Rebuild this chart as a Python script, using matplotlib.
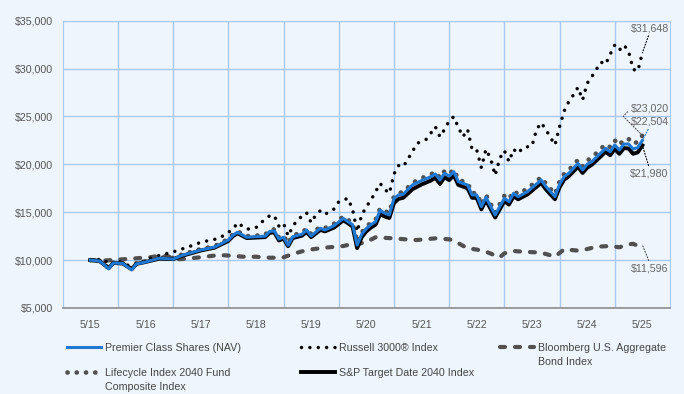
import matplotlib
matplotlib.use('Agg')
import matplotlib.pyplot as plt
from matplotlib.ticker import FuncFormatter

plt.rcParams['font.family'] = ['Liberation Sans', 'DejaVu Sans']

# months since 5/15 (0 = May 2015, 120 = May 2025)
fund_months = [0, 2, 4, 5, 7, 9, 10, 12, 15, 18,
               20, 24, 27, 30, 31, 32, 34, 36, 38, 39,
               40, 41, 42, 43, 44, 46, 47, 48, 50, 51,
               53, 55, 56, 57, 58, 59, 60, 61, 62, 63,
               64, 65, 66, 67, 68, 70, 72, 74, 75, 76,
               77, 78, 79, 80, 82, 83, 84, 85, 86, 88,
               90, 91, 92, 93, 95, 98, 99, 101, 102, 103,
               104, 106, 107, 108, 109, 112, 113, 114, 115, 116,
               117, 118, 119, 120]

premier_values = [10000, 9900, 9100, 9700, 9650, 8970, 9600, 9800, 10200, 10100,
                  10500, 11050, 11350, 12100, 12600, 12900, 12380, 12450, 12500, 13000,
                  13040, 12200, 12380, 11550, 12440, 12700, 13140, 12520, 13320, 13140,
                  13600, 14360, 14010, 13700, 11580, 12700, 13300, 13700, 14000, 15200,
                  14900, 14710, 16450, 16800, 16870, 17840, 18300, 18700, 18990, 18360,
                  19060, 18780, 19230, 18190, 17840, 16800, 16800, 15580, 16560, 14710,
                  16450, 16100, 16970, 16620, 17140, 18360, 17700, 16620, 17900, 18710,
                  19060, 20100, 19410, 20000, 20280, 21670, 21320, 22020, 21500, 22120,
                  22120, 21600, 21750, 22504]

sp_values = [10000, 9900, 9150, 9700, 9650, 9050, 9600, 9800, 10150, 10100,
             10450, 11000, 11300, 12000, 12500, 12800, 12300, 12350, 12400, 12850,
             12900, 12050, 12250, 11450, 12300, 12550, 12950, 12400, 13150, 13000,
             13400, 14150, 13850, 13500, 11250, 12400, 13000, 13400, 13700, 14800,
             14550, 14400, 15950, 16400, 16500, 17400, 17900, 18300, 18600, 17950,
             18650, 18350, 18850, 17850, 17500, 16500, 16500, 15300, 16250, 14450,
             16150, 15800, 16650, 16350, 16850, 18050, 17400, 16350, 17600, 18400,
             18750, 19750, 19100, 19650, 19950, 21300, 20950, 21600, 21100, 21700,
             21650, 21100, 21250, 21980]

lifecycle_values = [10000, 9920, 9180, 9760, 9700, 9060, 9680, 9880, 10280, 10220,
                    10600, 11150, 11450, 12200, 12700, 13000, 12500, 12550, 12650, 13150,
                    13200, 12350, 12550, 11750, 12600, 12850, 13300, 12700, 13500, 13350,
                    13800, 14550, 14200, 13900, 11850, 12900, 13500, 13900, 14200, 15400,
                    15100, 14950, 16650, 17000, 17100, 18050, 18550, 18950, 19200, 18600,
                    19300, 19000, 19450, 18400, 18050, 17000, 17000, 15800, 16800, 14950,
                    16700, 16350, 17200, 16900, 17450, 18650, 18000, 16900, 18200, 19000,
                    19400, 20450, 19800, 20400, 20700, 22100, 21800, 22500, 22000, 22600,
                    22650, 22150, 22350, 23020]

russell_months = [0, 3, 4, 6, 9, 12, 15, 18, 22, 24,
                  28, 31, 32, 34, 36, 37, 39, 40, 41, 42,
                  43, 44, 45, 47, 48, 49, 50, 51, 53, 54,
                  56, 57, 58, 59, 60, 61, 62, 63, 64, 65,
                  66, 67, 68, 69, 70, 71, 73, 74, 75, 76,
                  77, 78, 79, 80, 81, 82, 83, 84, 85, 86,
                  87, 88, 89, 90, 91, 92, 93, 94, 96, 97,
                  98, 99, 100, 101, 102, 103, 104, 105, 106, 107,
                  108, 109, 110, 111, 112, 113, 114, 115, 116, 117,
                  118, 119, 120]

russell_values = [10000, 10100, 9500, 9900, 9300, 10000, 10500, 10850, 11500, 11860,
                  12270, 13220, 13900, 13220, 13380, 13870, 14640, 14640, 13530, 13840,
                  12520, 13530, 14190, 14950, 13900, 14710, 15160, 14780, 15340, 16100,
                  16450, 15300, 12970, 14710, 15580, 16270, 17140, 18010, 17390, 16970,
                  18990, 19870, 19750, 20520, 21320, 22190, 22610, 23240, 23930, 22880,
                  23650, 24550, 24970, 23860, 22880, 23650, 21500, 21500, 19650, 21570,
                  20620, 18850, 20620, 21430, 20280, 21570, 21150, 21740, 21910, 23650,
                  24340, 23650, 22820, 22020, 23930, 25570, 26540, 27240, 28040, 26720,
                  28460, 29150, 29920, 30680, 30440, 31490, 32460, 31930, 32460, 31800,
                  29920, 29740, 31648]

bond_months = [0, 3, 6, 9, 13, 15, 17, 18, 21, 24,
               28, 31, 33, 36, 39, 41, 42, 44, 47, 51,
               55, 57, 58, 60, 62, 66, 69, 71, 75, 78,
               79, 82, 84, 86, 89, 90, 92, 94, 98, 101,
               103, 106, 108, 110, 113, 115, 117, 118, 119, 120]

bond_values = [10000, 9950, 10050, 10150, 10300, 10450, 10400, 10050, 10150, 10300,
               10530, 10450, 10360, 10350, 10250, 10250, 10290, 10640, 11050, 11300,
               11470, 11700, 11650, 11900, 12380, 12270, 12150, 12100, 12270, 12170,
               12030, 11230, 11100, 10880, 10290, 10710, 10950, 10880, 10780, 10360,
               11130, 10990, 11150, 11400, 11470, 11340, 11650, 11700, 11500, 11596]

year_ticks = [0, 12, 24, 36, 48, 60, 72, 84, 96, 108, 120]
year_labels = ['5/15', '5/16', '5/17', '5/18', '5/19', '5/20',
               '5/21', '5/22', '5/23', '5/24', '5/25']

bg = '#EEF5FC'
grid_col = '#A9C9F2'
txt_col = '#555555'
fs = 7.7

fig = plt.figure(figsize=(6.84, 3.94), dpi=100, facecolor=bg)
ax = fig.add_axes([0.0917, 0.2183, 0.8878, 0.7292])
ax.set_facecolor(bg)

h_bond, = ax.plot(bond_months, bond_values, color='#505050', lw=3, dashes=(1.2, 2.4),
                  dash_capstyle='round', zorder=2, label='Bloomberg U.S. Aggregate\nBond Index')
h_russell, = ax.plot(russell_months, russell_values, color='black', lw=2.5, dashes=(0.01, 2.4),
                     dash_capstyle='round', zorder=3, label='Russell 3000® Index')
h_life, = ax.plot(fund_months, lifecycle_values, color='#505050', lw=3.4, dashes=(0.01, 1.95),
                  dash_capstyle='round', zorder=4,
                  label='Lifecycle Index 2040 Fund\nComposite Index')
h_sp, = ax.plot(fund_months, sp_values, color='black', lw=2.8, zorder=5,
                label='S&P Target Date 2040 Index')
h_prem, = ax.plot(fund_months, premier_values, color='#1F78D1', lw=2.2, zorder=6,
                  label='Premier Class Shares (NAV)')

ax.set_xlim(-6, 126)
ax.set_ylim(5000, 35000)
ax.set_yticks(range(5000, 35001, 5000))
ax.yaxis.set_major_formatter(FuncFormatter(lambda v, p: f'${v:,.0f}'))
ax.set_xticks(year_ticks)
ax.set_xticklabels(year_labels)
ax.set_xticks(range(6, 120, 12), minor=True)
ax.tick_params(which='both', length=0, labelsize=fs, labelcolor=txt_col)
ax.tick_params(axis='y', pad=7)
ax.tick_params(axis='x', pad=9)
ax.grid(axis='y', color=grid_col, lw=1, zorder=0)
ax.grid(axis='x', which='minor', color=grid_col, lw=1, zorder=0)
for side in ['top', 'right', 'left']:
    ax.spines[side].set_color(grid_col)
ax.spines['bottom'].set_color('#8C8C8C')
ax.spines['bottom'].set_linewidth(1.2)

# end-value callouts
label_x = 125.7
callouts = [
    (russell_values[-1], 34230, 'black', (0.5, 0), 'arc3'),
    (lifecycle_values[-1], 25780, '#505050', (0, 0.5), 'angle,angleA=45,angleB=135,rad=0'),
    (premier_values[-1], 24450, '#1F78D1', (0.5, 0), 'arc3'),
    (sp_values[-1], 19060, 'black', (0.5, 1), 'arc3'),
    (bond_values[-1], 9140, '#505050', (0.5, 1), 'arc3'),
]
for val, ty, c, rp, cs in callouts:
    ax.annotate(f'${val:,}', xy=(120, val), xytext=(label_x, ty), ha='right', va='center',
                fontsize=fs, color='#666666', annotation_clip=False, zorder=7,
                arrowprops=dict(arrowstyle='-', linestyle=':', color=c, lw=0.8,
                                relpos=rp, shrinkA=0, shrinkB=0, connectionstyle=cs))


def fix_legend(leg):
    # keep the handle on the first line of two-line labels
    for col in leg._legend_handle_box.get_children():
        for item in col.get_children():
            item.align = 'top'
    for t in leg.get_texts():
        t.set_linespacing(1.5)


leg_kw = dict(loc='upper left', frameon=False, fontsize=fs, handlelength=3.2,
              handletextpad=0.35, labelspacing=1.4, borderpad=0, borderaxespad=0,
              labelcolor='#444444')
top = 1 - 343 / 394
fix_legend(fig.legend(handles=[h_prem, h_life], bbox_to_anchor=(67 / 684, top), **leg_kw))
fix_legend(fig.legend(handles=[h_russell, h_sp], bbox_to_anchor=(301 / 684, top), **leg_kw))
fix_legend(fig.legend(handles=[h_bond], bbox_to_anchor=(500 / 684, top), **leg_kw))

fig.savefig('out.png', dpi=100, facecolor=bg)
